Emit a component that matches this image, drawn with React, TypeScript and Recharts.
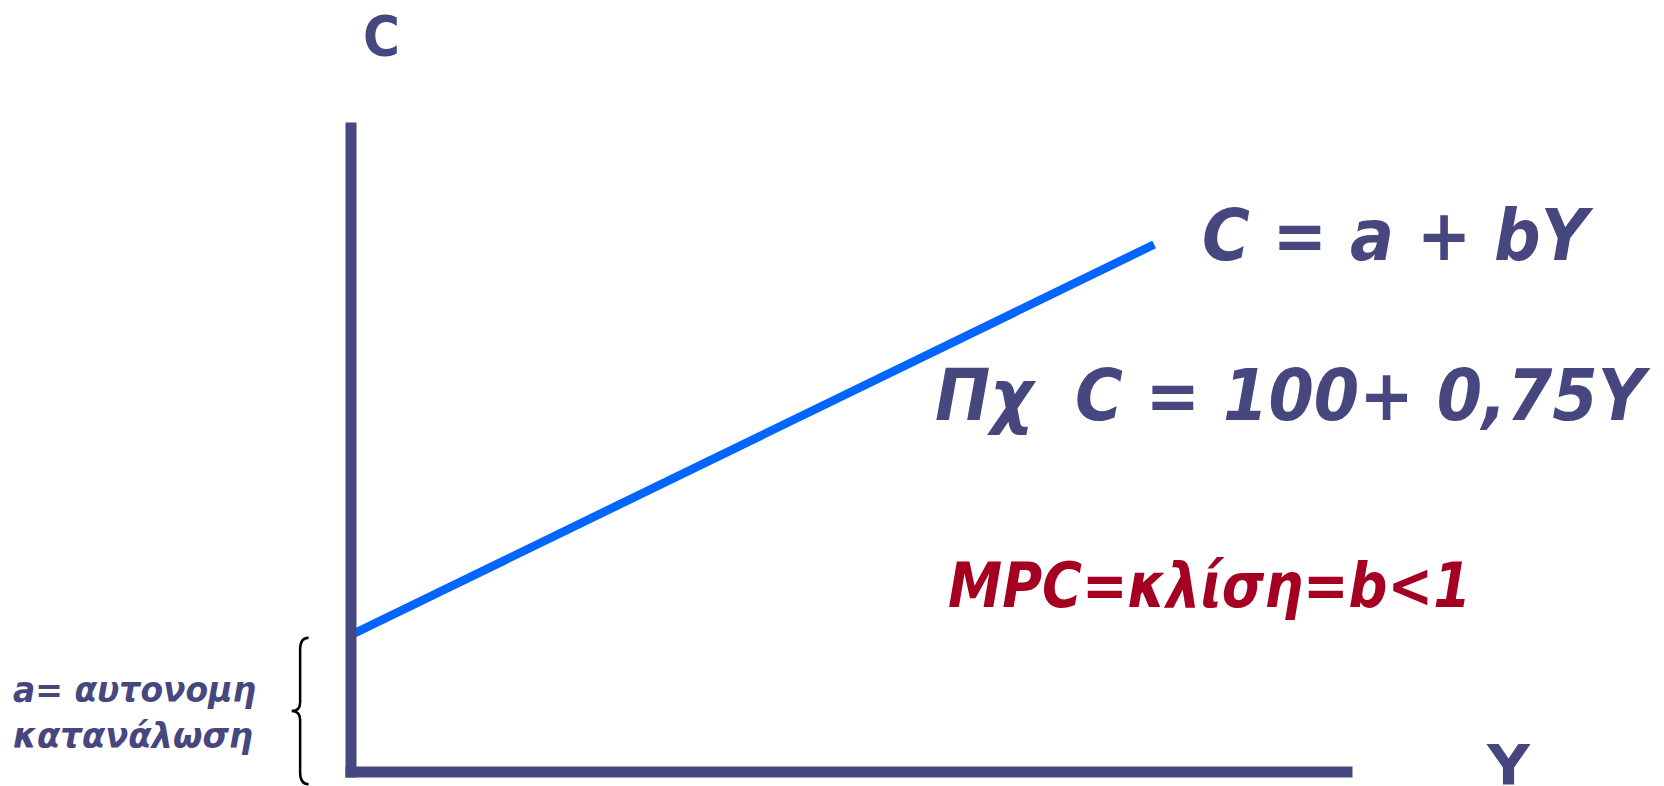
import React from 'react';
import { LineChart, Line, XAxis, YAxis, ReferenceArea, Customized } from 'recharts';

// Income (Y) and consumption (C) for C = a + bY
const incomeY = [0, 379];
const consumptionC = [100, 385];
const autonomousRange = [-9, 98];
const braceX = [-28, -20];

const axisTitleC = 'C';
const axisTitleY = 'Y';
const eqGeneral = 'C = a + bY';
const eqExamplePrefix = 'Πχ';
const eqExample = 'C = 100+ 0,75Y';
const mpcText = 'MPC=κλίση=b<1';
const autoLine1 = 'a= αυτονομη';
const autoLine2 = 'κατανάλωση';

const data = incomeY.map((y, i) => ({ Y: y, C: consumptionC[i] }));

const NAVY = '#47477f';
const BLUE = '#0066ff';
const RED = '#a50021';
const FONT = '"DejaVu Sans", Verdana, sans-serif';

const Brace = (props: any) => {
  const { x, y, width, height } = props;
  if (x == null || y == null) return null;
  const w = width;
  const h = height;
  const mx = x + w / 2;
  const my = y + h / 2;
  const d = [
    `M ${x + w} ${y}`,
    `Q ${mx} ${y} ${mx} ${y + h * 0.08}`,
    `L ${mx} ${my - h * 0.06}`,
    `Q ${mx} ${my} ${x} ${my}`,
    `Q ${mx} ${my} ${mx} ${my + h * 0.06}`,
    `L ${mx} ${y + h - h * 0.08}`,
    `Q ${mx} ${y + h} ${x + w} ${y + h}`,
  ].join(' ');
  return <path d={d} fill="none" stroke="#000" strokeWidth={2.5} />;
};

const Annotations = () => (
  <g fontFamily={FONT} fontWeight="bold">
    <text x={363} y={55} fontSize={56} fill={NAVY} textLength={37} lengthAdjust="spacingAndGlyphs">
      {axisTitleC}
    </text>
    <text x={1487} y={784} fontSize={56} fill={NAVY} textLength={43} lengthAdjust="spacingAndGlyphs">
      {axisTitleY}
    </text>
    <text x={1202} y={260} fontSize={72} fontStyle="italic" fill={NAVY} textLength={386} lengthAdjust="spacingAndGlyphs">
      {eqGeneral}
    </text>
    <text x={935} y={420} fontSize={71} fontStyle="italic" fill={NAVY} textLength={98} lengthAdjust="spacingAndGlyphs">
      {eqExamplePrefix}
    </text>
    <text x={1075} y={420} fontSize={71} fontStyle="italic" fill={NAVY} textLength={570} lengthAdjust="spacingAndGlyphs">
      {eqExample}
    </text>
    <text x={948} y={607} fontSize={62} fontStyle="italic" fill={RED} textLength={523} lengthAdjust="spacingAndGlyphs">
      {mpcText}
    </text>
    <text x={13} y={702} fontSize={35} fontStyle="italic" fill={NAVY} textLength={243} lengthAdjust="spacingAndGlyphs">
      {autoLine1}
    </text>
    <text x={13} y={748} fontSize={35} fontStyle="italic" fill={NAVY} textLength={240} lengthAdjust="spacingAndGlyphs">
      {autoLine2}
    </text>
  </g>
);

export default function App() {
  const axisLine = { stroke: NAVY, strokeWidth: 11, strokeLinecap: 'square' as const };
  return (
    <div style={{ position: 'absolute', left: 0, top: 0, width: 1664, height: 786, background: '#fff' }}>
      <LineChart width={1664} height={786} data={data} margin={{ top: 128, right: 317, bottom: 0, left: 331 }}>
        <XAxis
          type="number"
          dataKey="Y"
          domain={[0, 470]}
          height={14}
          tick={false}
          tickLine={false}
          axisLine={axisLine}
          allowDataOverflow
        />
        <YAxis
          type="number"
          domain={[0, 470]}
          width={20}
          tick={false}
          tickLine={false}
          axisLine={axisLine}
          allowDataOverflow
        />
        <ReferenceArea
          x1={braceX[0]}
          x2={braceX[1]}
          y1={autonomousRange[0]}
          y2={autonomousRange[1]}
          ifOverflow="visible"
          shape={<Brace />}
        />
        <Line
          type="linear"
          dataKey="C"
          stroke={BLUE}
          strokeWidth={8.5}
          dot={false}
          activeDot={false}
          isAnimationActive={false}
        />
        <Customized component={<Annotations />} />
      </LineChart>
    </div>
  );
}
